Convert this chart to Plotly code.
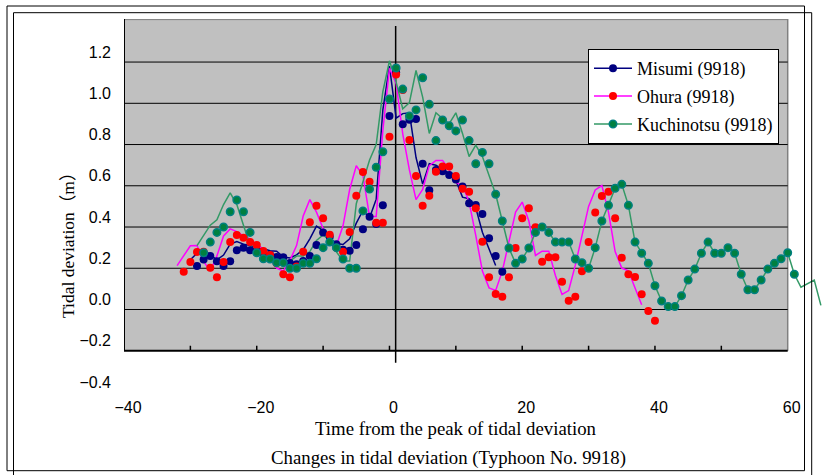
import plotly.graph_objects as go

# ---------------- data (hours from the peak, tidal deviation in m) ----------------
series_names = ["Misumi (9918)", "Ohura (9918)", "Kuchinotsu (9918)"]

misumi_pts_x = list(range(-29, 18))
misumi_pts_y = [0.211, 0.243, 0.259, 0.234, 0.211, 0.234, 0.287, 0.300, 0.287, 0.280,
                0.270, 0.265, 0.255, 0.253, 0.225, 0.220, 0.235, 0.260, 0.313, 0.374,
                0.353, 0.316, 0.290, 0.285, 0.313, 0.389, 0.450, 0.415, 0.505, 0.938,
                1.150, 0.898, 0.920, 0.924, 0.707, 0.578, 0.677, 0.670, 0.652, 0.630,
                0.596, 0.515, 0.507, 0.463, 0.345, 0.259, 0.183]
misumi_line_x = list(range(-30, 17))
misumi_line_y = [0.241, 0.273, 0.289, 0.264, 0.241, 0.264, 0.317, 0.330, 0.317, 0.310,
                 0.300, 0.295, 0.285, 0.283, 0.255, 0.250, 0.265, 0.290, 0.343, 0.404,
                 0.383, 0.346, 0.320, 0.315, 0.343, 0.419, 0.480, 0.445, 0.535, 0.968,
                 1.180, 0.928, 0.950, 0.954, 0.737, 0.608, 0.707, 0.700, 0.682, 0.660,
                 0.626, 0.545, 0.537, 0.493, 0.375, 0.289, 0.213]

ohura_pts_x = list(range(-31, 41))
ohura_pts_y = [0.183, 0.230, 0.279, 0.280, 0.203, 0.156, 0.230, 0.327, 0.361, 0.348,
               0.327, 0.313, 0.284, 0.264, 0.224, 0.171, 0.156, 0.208, 0.280, 0.423,
               0.503, 0.442, 0.363, 0.300, 0.280, 0.376, 0.552, 0.667, 0.620, 0.421,
               0.421, 0.838, 1.140, 1.065, 0.822, 0.647, 0.503, 0.552, 0.668, 0.693,
               0.693, 0.647, 0.586, 0.571, 0.491, 0.329, 0.156, 0.075, 0.062, 0.156,
               0.298, 0.442, 0.491, 0.399, 0.232, 0.253, 0.253, 0.135, 0.043, 0.062,
               0.185, 0.327, 0.470, 0.550, 0.571, 0.442, 0.251, 0.171, 0.158, 0.074,
               -0.007, -0.054]
ohura_line_x = list(range(-32, 39))
ohura_line_y = [0.213, 0.260, 0.309, 0.310, 0.233, 0.186, 0.260, 0.357, 0.391, 0.378,
                0.357, 0.343, 0.314, 0.294, 0.254, 0.201, 0.186, 0.238, 0.310, 0.453,
                0.533, 0.472, 0.393, 0.330, 0.310, 0.406, 0.582, 0.697, 0.650, 0.451,
                0.451, 0.868, 1.170, 1.095, 0.852, 0.677, 0.533, 0.582, 0.698, 0.723,
                0.723, 0.677, 0.616, 0.601, 0.521, 0.359, 0.186, 0.105, 0.092, 0.186,
                0.328, 0.472, 0.521, 0.429, 0.262, 0.283, 0.283, 0.165, 0.073, 0.092,
                0.215, 0.357, 0.500, 0.580, 0.601, 0.472, 0.281, 0.201, 0.188, 0.104,
                0.023]

kuchi_pts_x = list(range(-28, 62))
kuchi_pts_y = [0.275, 0.327, 0.374, 0.400, 0.474, 0.531, 0.474, 0.374, 0.275, 0.246,
               0.245, 0.227, 0.227, 0.200, 0.200, 0.224, 0.224, 0.246, 0.300, 0.327,
               0.300, 0.245, 0.200, 0.200, 0.478, 0.584, 0.690, 0.765, 1.021, 1.171,
               1.069, 0.938, 0.968, 1.124, 0.995, 0.819, 0.919, 0.891, 0.866, 0.919,
               0.819, 0.707, 0.762, 0.707, 0.559, 0.429, 0.298, 0.224, 0.245, 0.298,
               0.374, 0.400, 0.374, 0.327, 0.327, 0.327, 0.245, 0.227, 0.200, 0.300,
               0.429, 0.505, 0.588, 0.607, 0.505, 0.327, 0.273, 0.224, 0.115, 0.041,
               0.014, 0.014, 0.067, 0.143, 0.196, 0.273, 0.327, 0.273, 0.273, 0.300,
               0.273, 0.171, 0.096, 0.096, 0.143, 0.196, 0.224, 0.246, 0.275, 0.171]
kuchi_line_x = list(range(-29, 15)) + list(range(16, 63)) + [64, 65]
kuchi_line_y = [0.310, 0.362, 0.409, 0.435, 0.509, 0.566, 0.509, 0.409, 0.310, 0.281,
                0.280, 0.262, 0.262, 0.235, 0.235, 0.259, 0.259, 0.281, 0.335, 0.362,
                0.335, 0.280, 0.235, 0.235, 0.513, 0.619, 0.725, 0.800, 1.056, 1.206,
                1.104, 0.973, 1.003, 1.159, 1.030, 0.854, 0.954, 0.926, 0.901, 0.954,
                0.854, 0.742, 0.797, 0.742,
                0.559, 0.429, 0.298, 0.224, 0.245, 0.298, 0.374, 0.400, 0.374, 0.327,
                0.327, 0.327, 0.245, 0.227, 0.200, 0.300, 0.429, 0.505, 0.588, 0.607,
                0.505, 0.327, 0.273, 0.224, 0.115, 0.041, 0.014, 0.014, 0.067, 0.143,
                0.196, 0.273, 0.327, 0.273, 0.273, 0.300, 0.273, 0.171, 0.096, 0.096,
                0.143, 0.196, 0.224, 0.246, 0.275, 0.171, 0.108,
                0.143, 0.020]

x_tick_values = [-40, -20, 0, 20, 40, 60]
x_minor_ticks = [-30, -20, -10, 0, 10, 20, 30, 40, 50]
y_tick_values = [-0.4, -0.2, 0.0, 0.2, 0.4, 0.6, 0.8, 1.0, 1.2]
grid_values = [0.0, 0.2, 0.4, 0.6, 0.8, 1.0, 1.2]

# ---------------- geometry ----------------
W, H = 822, 475
ML, MR, MT, MB = 124, 0, 19, 79
PW, PH = W - ML - MR, H - MT - MB
PX_PER_X = 6.637
PX_PER_Y = 206.2
X_LO = -40.0
X_HI = X_LO + PW / PX_PER_X
Y_ZERO_PX = 309.5
Y_HI = (Y_ZERO_PX - MT) / PX_PER_Y
Y_LO = (Y_ZERO_PX - (H - MB)) / PX_PER_Y
GRAY_X0, GRAY_X1, GRAY_Y0 = -40, 60, -0.2
ZERO_LINE_X = 0.93


def pxx(px):
    return (px - ML) / PW


def pxy(py):
    return (H - MB - py) / PH


SERIF = "Liberation Serif, Times New Roman, Noto Sans CJK JP, serif"
SANS = "Liberation Sans, Arial, sans-serif"

NAVY, RED, MAGENTA = "#000080", "#FF0000", "#FF00FF"
GREEN_LINE, GREEN_FILL, GREEN_EDGE = "#339966", "#008040", "#008080"

fig = go.Figure()

# lines
fig.add_trace(go.Scatter(x=misumi_line_x, y=misumi_line_y, mode="lines",
                         line=dict(color=NAVY, width=1.5), showlegend=False, hoverinfo="skip"))
fig.add_trace(go.Scatter(x=ohura_line_x, y=ohura_line_y, mode="lines",
                         line=dict(color=MAGENTA, width=1.5), showlegend=False, hoverinfo="skip"))
fig.add_trace(go.Scatter(x=kuchi_line_x, y=kuchi_line_y, mode="lines",
                         line=dict(color=GREEN_LINE, width=1.5), showlegend=False, hoverinfo="skip"))
# markers
fig.add_trace(go.Scatter(x=misumi_pts_x, y=misumi_pts_y, mode="markers",
                         marker=dict(color=NAVY, size=8), showlegend=False))
fig.add_trace(go.Scatter(x=ohura_pts_x, y=ohura_pts_y, mode="markers",
                         marker=dict(color=RED, size=8), showlegend=False))
fig.add_trace(go.Scatter(x=kuchi_pts_x, y=kuchi_pts_y, mode="markers",
                         marker=dict(color=GREEN_FILL, size=7.5,
                                     line=dict(color=GREEN_EDGE, width=1.5)),
                         showlegend=False))

# legend entries
legend_styles = [
    (NAVY, dict(color=NAVY, size=8)),
    (MAGENTA, dict(color=RED, size=8)),
    (GREEN_LINE, dict(color=GREEN_FILL, size=7.5, line=dict(color=GREEN_EDGE, width=1.5))),
]
for i, (name, (lc, mk)) in enumerate(zip(series_names, legend_styles)):
    fig.add_trace(go.Scatter(x=[None], y=[None], mode="lines+markers", name=name,
                             line=dict(color=lc, width=1.5), marker=mk,
                             legendgroup="g%d" % i))

shapes = []
# gray plot area
shapes.append(dict(type="rect", xref="x", yref="y", x0=GRAY_X0, x1=GRAY_X1,
                   y0=GRAY_Y0, y1=Y_HI, fillcolor="#C0C0C0", line=dict(width=0),
                   layer="below"))
# top / right border
shapes.append(dict(type="line", xref="x", yref="y", x0=GRAY_X0, x1=GRAY_X1, y0=Y_HI - 0.003,
                   y1=Y_HI - 0.003, line=dict(color="#808080", width=1), layer="below"))
shapes.append(dict(type="line", xref="x", yref="y", x0=GRAY_X1, x1=GRAY_X1, y0=GRAY_Y0,
                   y1=Y_HI, line=dict(color="#808080", width=1.5), layer="below"))
# gridlines
for g in grid_values:
    shapes.append(dict(type="line", xref="x", yref="y", x0=GRAY_X0, x1=GRAY_X1, y0=g, y1=g,
                       line=dict(color="#000000", width=1), layer="below"))
# axis lines
shapes.append(dict(type="line", xref="x", yref="y", x0=GRAY_X0, x1=GRAY_X1, y0=GRAY_Y0,
                   y1=GRAY_Y0, line=dict(color="#000000", width=2), layer="below"))
shapes.append(dict(type="line", xref="x", yref="y", x0=GRAY_X0, x1=GRAY_X0, y0=GRAY_Y0,
                   y1=Y_HI, line=dict(color="#000000", width=2), layer="below"))
# inside tick marks on the bottom axis
for t in x_minor_ticks:
    shapes.append(dict(type="line", xref="x", yref="y", x0=t, x1=t, y0=GRAY_Y0,
                       y1=GRAY_Y0 + 5 / PX_PER_Y, line=dict(color="#000000", width=1.5),
                       layer="below"))
# vertical axis line through the peak
shapes.append(dict(type="line", xref="x", yref="y", x0=ZERO_LINE_X, x1=ZERO_LINE_X,
                   y0=(Y_ZERO_PX - 362.7) / PX_PER_Y, y1=(Y_ZERO_PX - 26) / PX_PER_Y,
                   line=dict(color="#000000", width=1.5), layer="below"))
# outer frames
shapes.append(dict(type="rect", xref="paper", yref="paper", x0=pxx(7), x1=pxx(804.5),
                   y0=pxy(470.7), y1=pxy(6), line=dict(color="#000000", width=1),
                   fillcolor="rgba(0,0,0,0)"))
shapes.append(dict(type="rect", xref="paper", yref="paper", x0=pxx(13.5), x1=pxx(811.7),
                   y0=pxy(490), y1=pxy(12.7), line=dict(color="#000000", width=1),
                   fillcolor="rgba(0,0,0,0)"))

annotations = [
    dict(text="Time from the peak of tidal deviation", xref="paper", yref="paper",
         x=pxx(456), y=pxy(428), xanchor="center", yanchor="middle", showarrow=False,
         font=dict(family=SERIF, size=18.8, color="#000000")),
    dict(text="Changes in tidal deviation (Typhoon No. 9918)", xref="paper", yref="paper",
         x=pxx(448), y=pxy(458), xanchor="center", yanchor="middle", showarrow=False,
         font=dict(family=SERIF, size=18.8, color="#000000")),
    dict(text="Tidal deviation（m）", xref="paper", yref="paper",
         x=pxx(68), y=pxy(241), xanchor="center", yanchor="middle", showarrow=False,
         textangle=-90, font=dict(family=SERIF, size=17.5, color="#000000")),
]

fig.update_layout(
    width=W, height=H,
    margin=dict(l=ML, r=MR, t=MT, b=MB, pad=0),
    paper_bgcolor="#FFFFFF", plot_bgcolor="rgba(0,0,0,0)",
    font=dict(family=SANS, size=16, color="#000000"),
    shapes=shapes, annotations=annotations,
    showlegend=True,
    legend=dict(x=pxx(588), y=pxy(49), xanchor="left", yanchor="top",
                bgcolor="#FFFFFF", bordercolor="#000000", borderwidth=1,
                font=dict(family=SERIF, size=18, color="#000000"),
                itemwidth=38, tracegroupgap=1.5),
    xaxis=dict(range=[X_LO, X_HI], tickvals=x_tick_values, tickformat="d",
               ticks="", showgrid=False, zeroline=False, showline=False,
               ticklabelshift=4, tickfont=dict(family=SANS, size=16)),
    yaxis=dict(range=[Y_LO, Y_HI], tickvals=y_tick_values, tickformat=".1f",
               ticks="", showgrid=False, zeroline=False, showline=False,
               ticklabelshift=-10, ticklabelstandoff=12, tickfont=dict(family=SANS, size=16)),
)

fig.write_html("out.html", include_plotlyjs=True, config={"displayModeBar": False},
               post_script="document.body.style.margin='0px';")
